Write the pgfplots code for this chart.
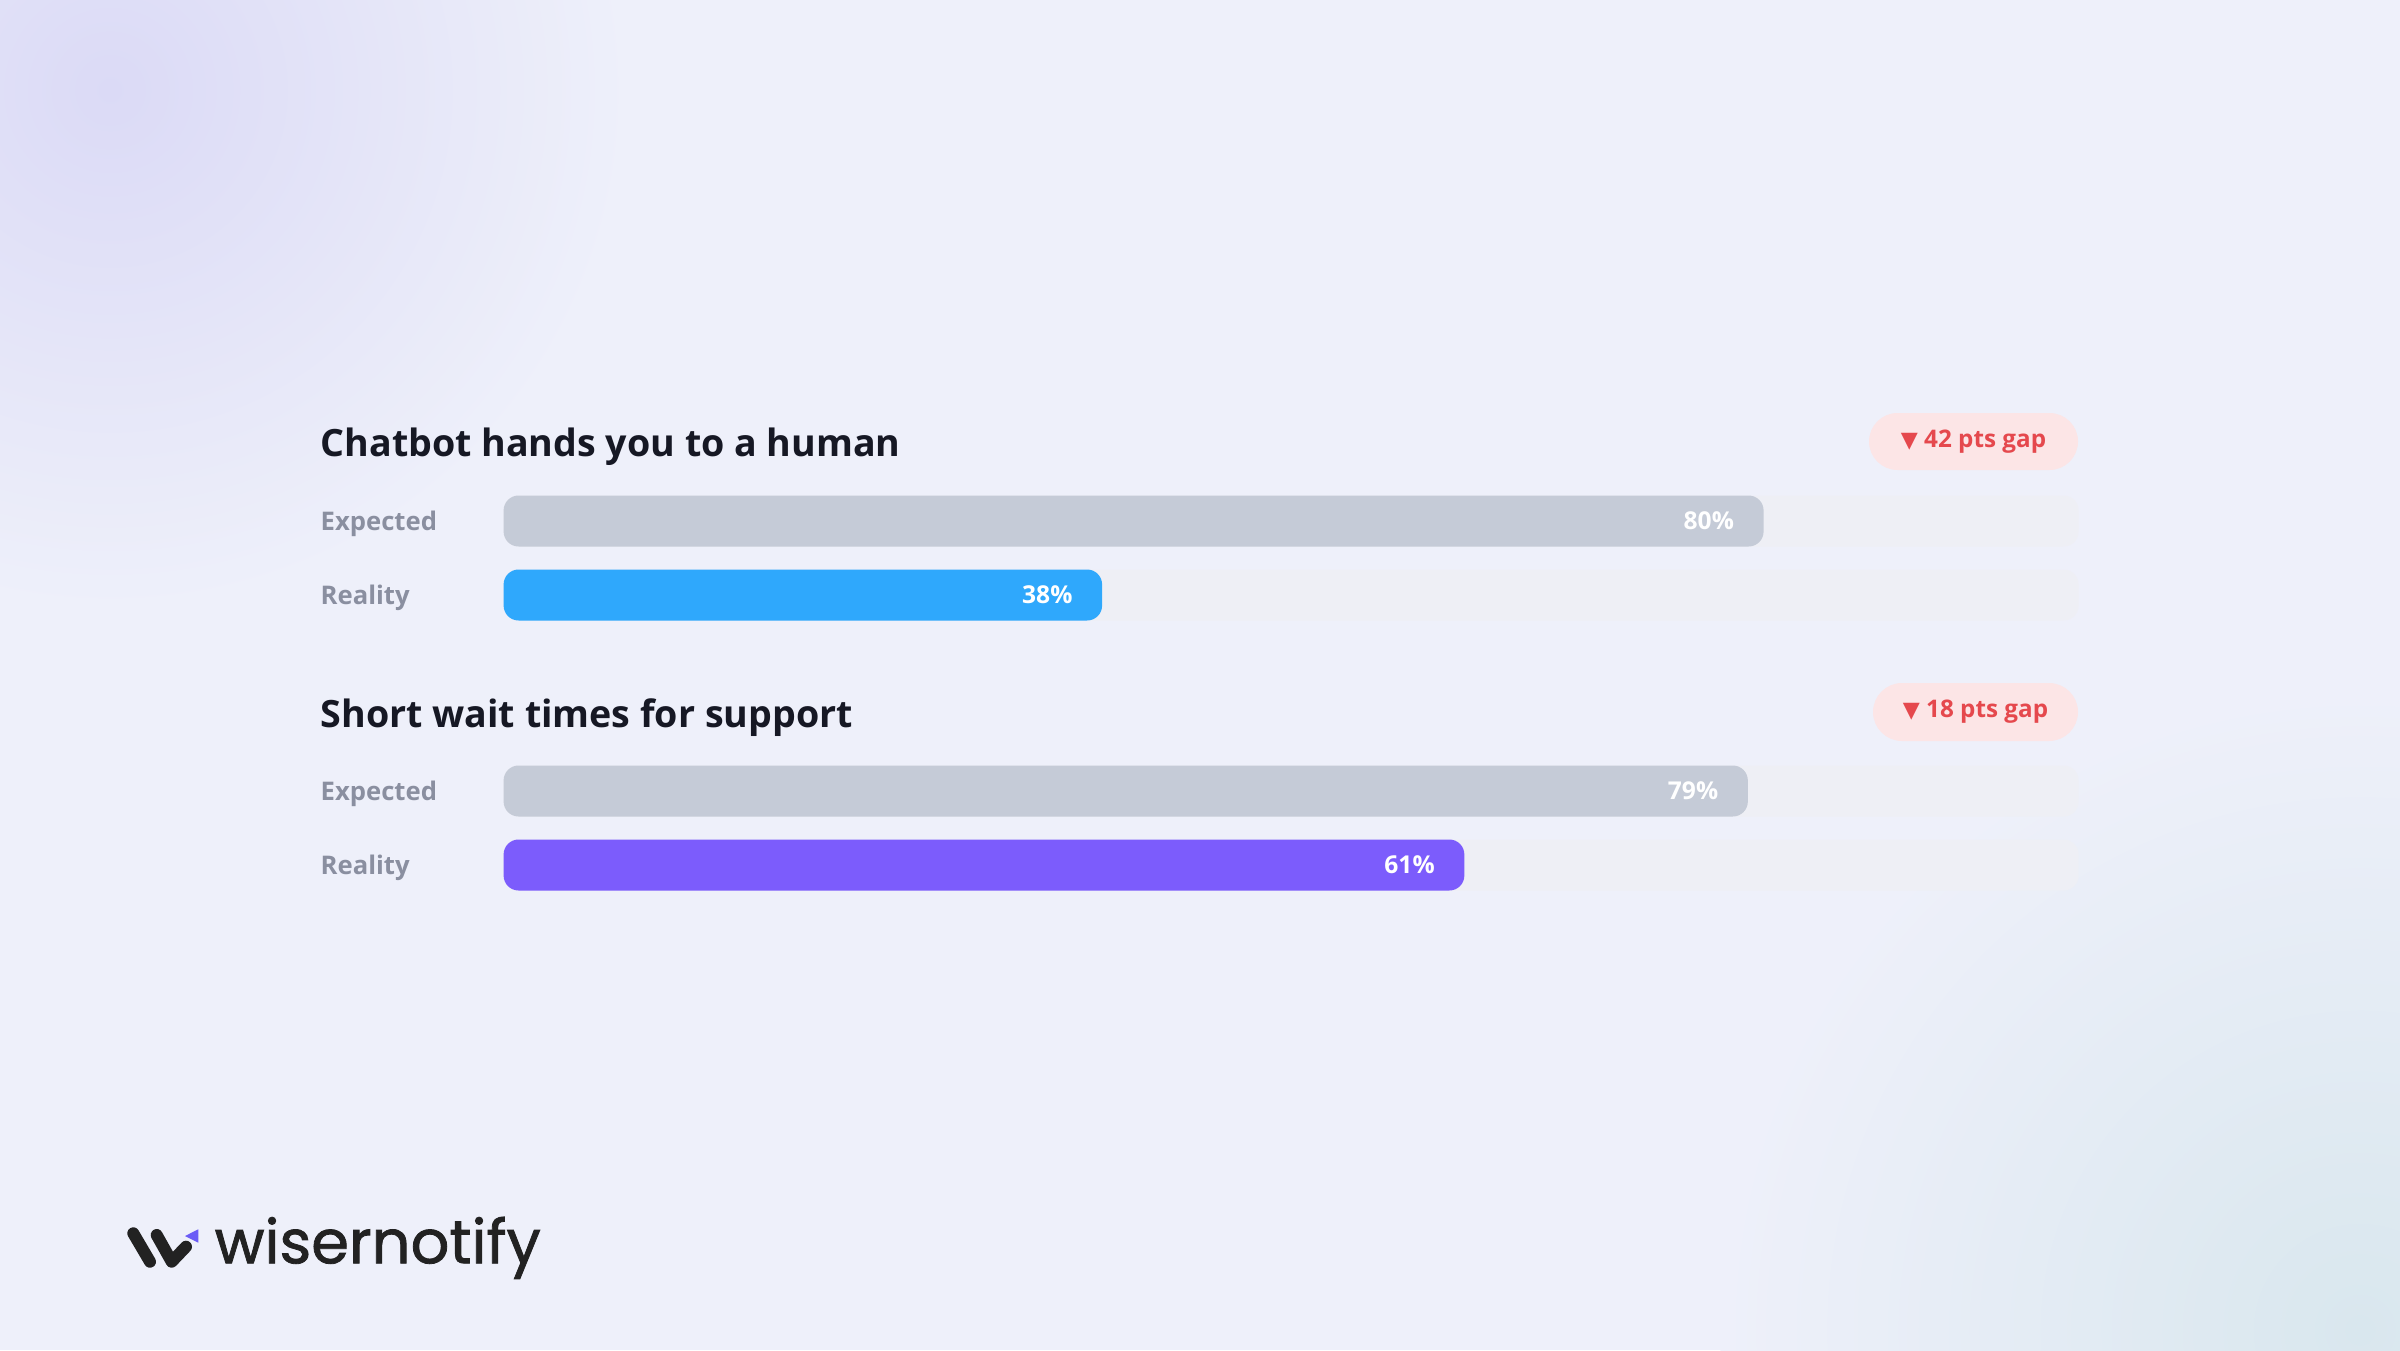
\documentclass[border=0pt]{standalone}
\usepackage{pgfplots}
\pgfplotsset{compat=1.18}
\usepackage{fontspec}
\setmainfont{Open Sans}
\newfontfamily\logofont{Poppins}[FakeBold=1.3]
\newfontfamily\symfont{DejaVu Sans}
\definecolor{bg}{HTML}{EEF0FA}
\definecolor{glowP}{HTML}{DBDAF6}
\definecolor{glowT}{HTML}{D9E7EE}
\definecolor{track}{HTML}{EEEFF5}
\definecolor{expc}{HTML}{C5CBD7}
\definecolor{blueR}{HTML}{2FA8FC}
\definecolor{purpR}{HTML}{7C5CFC}
\definecolor{labc}{HTML}{8A8FA0}
\definecolor{titlec}{HTML}{161824}
\definecolor{badgebg}{HTML}{FCE5E6}
\definecolor{badgetx}{HTML}{E5484D}
\definecolor{logoc}{HTML}{222222}
\definecolor{logop}{HTML}{6B5CF6}
\begin{document}
\begin{tikzpicture}
\begin{scope}[x=0.1mm,y=-0.1mm]
\useasboundingbox (0,0) rectangle (2400,1350);
\fill[bg] (0,0) rectangle (2400,1350);
\begin{scope}
\clip (0,0) rectangle (2400,1350);
\shade[inner color=glowP, outer color=bg] (110,90) circle (520);
\shade[inner color=glowT, outer color=bg] (2360,1330) circle (640);
\end{scope}
% titles
\node[anchor=base west, inner sep=0pt, font=\bfseries\fontsize{10.7}{13}\selectfont, text=titlec] at (320,456.7) {Chatbot hands you to a human};
\node[anchor=base west, inner sep=0pt, font=\bfseries\fontsize{10.7}{13}\selectfont, text=titlec] at (320,727.6) {Short wait times for support};
% row labels
\foreach \yy/\tx in {530/Expected,604/Reality,800/Expected,874/Reality}
  \node[anchor=base west, inner sep=0pt, font=\bfseries\fontsize{7.3}{8}\selectfont, text=labc] at (320,\yy) {\tx};
% badges
\node[fill=badgebg, rounded corners=2.85mm, minimum width=20.9mm, minimum height=5.7mm, inner sep=0pt, text=badgetx, font=\bfseries\fontsize{6.9}{8}\selectfont] at (1973.5,441.5) {{\symfont\fontsize{6.3}{7}\selectfont ▼} 42 pts gap};
\node[fill=badgebg, rounded corners=2.9mm, minimum width=20.5mm, minimum height=5.8mm, inner sep=0pt, text=badgetx, font=\bfseries\fontsize{6.9}{8}\selectfont] at (1975.5,712) {{\symfont\fontsize{6.3}{7}\selectfont ▼} 18 pts gap};
% logo
\draw[logoc, line width=1.2mm, line cap=round] (133.3,1233.3) -- (150,1261.7);
\draw[logoc, line width=1.2mm, line cap=round, line join=round] (156.7,1235) -- (171.7,1261.7) -- (186,1246.7);
\fill[logop] (185,1236) -- (198.3,1229.3) -- (198.3,1242.7) -- cycle;
\node[anchor=base west, inner sep=0pt, font=\logofont\fontsize{17.3}{20}\selectfont, text=logoc] at (214,1263.3) {wisernotify};
\end{scope}
% bars
\begin{axis}[at={(50.36mm,-135mm)}, anchor=south west, scale only axis,
  width=157.5mm, height=135mm, xmin=0, xmax=100, ymin=0, ymax=1350,
  y dir=reverse, hide axis, clip=false,
  xbar, bar width=5.1mm, bar shift=0pt,
  /pgf/number format/assume math mode=true,
  every node near coord/.append style={anchor=east, inner sep=0pt, xshift=-2.9mm, text=white,
    font=\bfseries\fontsize{7}{8}\selectfont}]
\addplot[fill=track, draw=none, rounded corners=1.5mm] coordinates {(100,521) (100,595) (100,791) (100,865)};
\addplot[fill=expc, draw=none, rounded corners=1.5mm, point meta=x,
  nodes near coords={\pgfmathprintnumber{\pgfplotspointmeta}\%}] coordinates {(80,521) (79,791)};
\addplot[fill=blueR, draw=none, rounded corners=1.5mm, point meta=x,
  nodes near coords={\pgfmathprintnumber{\pgfplotspointmeta}\%}] coordinates {(38,595)};
\addplot[fill=purpR, draw=none, rounded corners=1.5mm, point meta=x,
  nodes near coords={\pgfmathprintnumber{\pgfplotspointmeta}\%}] coordinates {(61,865)};
\end{axis}
\end{tikzpicture}
\end{document}
